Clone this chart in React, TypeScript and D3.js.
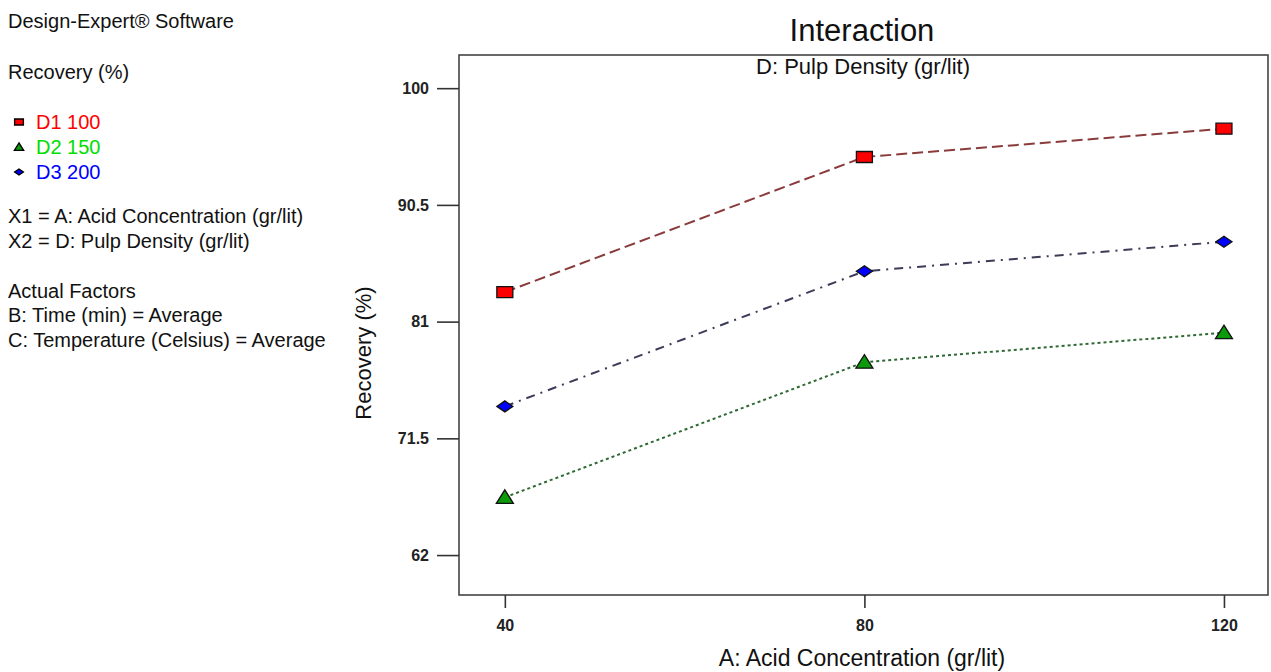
import React, { useEffect, useRef } from 'react';
import * as d3 from 'd3';

// Acid concentration levels (x)
const acidLevels = [40, 80, 120];
const yTicks = [62, 71.5, 81, 90.5, 100];

// Recovery (%) per pulp density level
const d1Values = [83.4, 94.4, 96.7];
const d2Values = [66.7, 77.7, 80.1];
const d3Values = [74.1, 85.1, 87.5];

const seriesNames = ['D1 100', 'D2 150', 'D3 200'];
const seriesLabelColors = ['#ff0000', '#00dd00', '#0000ff'];

const infoLines = [
  { text: 'Design-Expert® Software', y: 28 },
  { text: 'Recovery (%)', y: 79 },
  { text: 'X1 = A: Acid Concentration (gr/lit)', y: 223 },
  { text: 'X2 = D: Pulp Density (gr/lit)', y: 248 },
  { text: 'Actual Factors', y: 298 },
  { text: 'B: Time (min) = Average', y: 322 },
  { text: 'C: Temperature (Celsius) = Average', y: 347 },
];

const WIDTH = 1271;
const HEIGHT = 672;
const FONT = "'Liberation Sans', Arial, sans-serif";

type Series = {
  name: string;
  values: number[];
  line: string;
  fill: string;
  dash: string;
  marker: 'square' | 'triangle' | 'diamond';
};

const seriesList: Series[] = [
  { name: seriesNames[0], values: d1Values, line: '#8a3b3b', fill: '#ff0000', dash: '11,5', marker: 'square' },
  { name: seriesNames[1], values: d2Values, line: '#2f6a35', fill: '#0a9a0a', dash: '3,3', marker: 'triangle' },
  { name: seriesNames[2], values: d3Values, line: '#3c3c58', fill: '#0000ff', dash: '9,6,2,6', marker: 'diamond' },
];

function markerPath(kind: Series['marker']): string {
  if (kind === 'square') return 'M-8,-5.5H8V5.5H-8Z';
  if (kind === 'triangle') return 'M0,-7.5L8.5,6H-8.5Z';
  return 'M0,-5.5L8,0L0,5.5L-8,0Z';
}

export default function App() {
  const svgRef = useRef<SVGSVGElement>(null);

  useEffect(() => {
    if (!svgRef.current) return;
    const svg = d3.select(svgRef.current);
    svg.selectAll('*').remove();

    const plot = { left: 459, right: 1268, top: 55, bottom: 595 };

    const xScale = d3.scaleLinear().domain([34.9, 124.9]).range([plot.left, plot.right]);
    const yScale = d3.scaleLinear().domain([58.75, 102.7]).range([plot.bottom, plot.top]);

    // Left info panel
    const info = svg.append('g').style('font-family', FONT).style('font-size', '20px');
    info
      .selectAll('text.info')
      .data(infoLines)
      .enter()
      .append('text')
      .attr('class', 'info')
      .attr('x', 8)
      .attr('y', (d) => d.y)
      .attr('fill', '#111')
      .text((d) => d.text);

    const legend = info
      .selectAll('g.legend-item')
      .data(seriesList)
      .enter()
      .append('g')
      .attr('class', 'legend-item')
      .attr('transform', (_, i) => `translate(0, ${129 + i * 25})`);

    legend
      .append('path')
      .attr('transform', 'translate(19,-7) scale(0.55)')
      .attr('d', (d) => markerPath(d.marker))
      .attr('fill', (d) => d.fill)
      .attr('stroke', '#000')
      .attr('stroke-width', 2.4);

    legend
      .append('text')
      .attr('x', 36)
      .attr('y', 0)
      .attr('fill', (_, i) => seriesLabelColors[i])
      .text((d) => d.name);

    // Titles
    svg
      .append('text')
      .attr('x', 862)
      .attr('y', 41)
      .attr('text-anchor', 'middle')
      .style('font-family', FONT)
      .style('font-size', '31px')
      .attr('fill', '#111')
      .text('Interaction');

    svg
      .append('text')
      .attr('x', 863)
      .attr('y', 74)
      .attr('text-anchor', 'middle')
      .style('font-family', FONT)
      .style('font-size', '22px')
      .attr('fill', '#111')
      .text('D: Pulp Density (gr/lit)');

    // Plot frame
    svg
      .append('rect')
      .attr('x', plot.left)
      .attr('y', plot.top)
      .attr('width', plot.right - plot.left)
      .attr('height', plot.bottom - plot.top)
      .attr('fill', 'none')
      .attr('stroke', '#444')
      .attr('stroke-width', 1.6);

    // Y axis
    const yAxis = svg
      .append('g')
      .attr('transform', `translate(${plot.left},0)`)
      .call(d3.axisLeft(yScale).tickValues(yTicks).tickSize(22).tickPadding(8).tickFormat((d) => String(d)));
    yAxis.select('.domain').remove();
    yAxis.selectAll('line').attr('stroke', '#333').attr('stroke-width', 1.6);
    yAxis
      .selectAll('text')
      .style('font-family', FONT)
      .style('font-size', '16px')
      .style('font-weight', 'bold')
      .attr('fill', '#222');

    // X axis
    const xAxis = svg
      .append('g')
      .attr('transform', `translate(0,${plot.bottom})`)
      .call(d3.axisBottom(xScale).tickValues(acidLevels).tickSize(13).tickPadding(12).tickFormat((d) => String(d)));
    xAxis.select('.domain').remove();
    xAxis.selectAll('line').attr('stroke', '#333').attr('stroke-width', 1.6);
    xAxis
      .selectAll('text')
      .style('font-family', FONT)
      .style('font-size', '16px')
      .style('font-weight', 'bold')
      .attr('fill', '#222');

    // Axis titles
    svg
      .append('text')
      .attr('transform', `translate(371,353) rotate(-90)`)
      .attr('text-anchor', 'middle')
      .style('font-family', FONT)
      .style('font-size', '22px')
      .attr('fill', '#111')
      .text('Recovery (%)');

    svg
      .append('text')
      .attr('x', 862)
      .attr('y', 666)
      .attr('text-anchor', 'middle')
      .style('font-family', FONT)
      .style('font-size', '23px')
      .attr('fill', '#111')
      .text('A: Acid Concentration (gr/lit)');

    // Lines
    const line = d3
      .line<number>()
      .x((_, i) => xScale(acidLevels[i]))
      .y((d) => yScale(d));

    svg
      .selectAll('path.series-line')
      .data(seriesList)
      .enter()
      .append('path')
      .attr('class', 'series-line')
      .attr('d', (d) => line(d.values))
      .attr('fill', 'none')
      .attr('stroke', (d) => d.line)
      .attr('stroke-width', 2)
      .attr('stroke-dasharray', (d) => d.dash);

    // Markers
    seriesList.forEach((s) => {
      svg
        .selectAll(`path.marker-${s.marker}`)
        .data(s.values)
        .enter()
        .append('path')
        .attr('class', `marker-${s.marker}`)
        .attr('transform', (d, i) => `translate(${xScale(acidLevels[i])},${yScale(d)})`)
        .attr('d', markerPath(s.marker))
        .attr('fill', s.fill)
        .attr('stroke', '#111')
        .attr('stroke-width', 1.3);
    });
  }, []);

  return (
    <svg
      ref={svgRef}
      width={WIDTH}
      height={HEIGHT}
      style={{ position: 'absolute', left: 0, top: 0, background: '#fff' }}
    />
  );
}
